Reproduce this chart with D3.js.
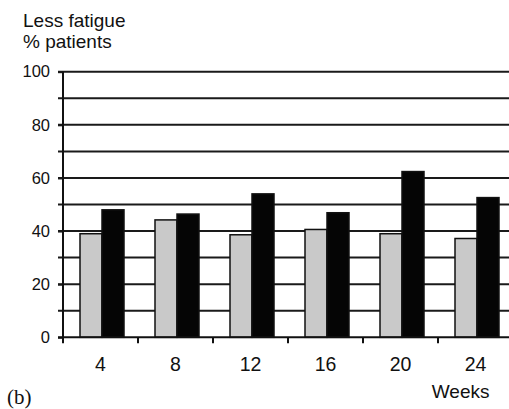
<!DOCTYPE html>
<html>
<head>
<meta charset="utf-8">
<script src="https://cdn.jsdelivr.net/npm/d3@7"></script>
<style>
  html, body { margin: 0; padding: 0; background: #fff; }
  svg { display: block; }
  text { font-family: "Liberation Sans", Arial, sans-serif; fill: #111; }
</style>
</head>
<body>
<svg id="chart" width="509" height="409"></svg>
<script>
// Percent of patients reporting less fatigue, by week
const weeks = ["4", "8", "12", "16", "20", "24"];
const seriesNames = ["control", "treated"];
const controlValues = [39.0, 44.2, 38.6, 40.6, 39.0, 37.2];
const treatedValues = [48.0, 46.4, 54.0, 46.9, 62.4, 52.6];
const yTickValues = [0, 20, 40, 60, 80, 100];
const gridValues = [10, 20, 30, 40, 50, 60, 70, 80, 90, 100];

const svg = d3.select("#chart");
const plotLeft = 63, plotRight = 513, plotTop = 71.7, plotBottom = 337.3;

const x = d3.scaleBand().domain(weeks).range([plotLeft, plotRight]).paddingInner(0).paddingOuter(0);
const xInner = d3.scaleBand().domain(seriesNames).range([17, 61]).padding(0);
const y = d3.scaleLinear().domain([0, 100]).range([plotBottom, plotTop]);

const fills = { control: "#c9c9c9", treated: "#050505" };

// Horizontal grid lines with short outer ticks
svg.append("g")
  .selectAll("line")
  .data(gridValues)
  .join("line")
  .attr("x1", plotLeft - 5)
  .attr("x2", 509)
  .attr("y1", d => y(d))
  .attr("y2", d => y(d))
  .attr("stroke", "#1a1a1a")
  .attr("stroke-width", 2);

// Y axis labels
const yAxis = d3.axisLeft(y).tickValues(yTickValues).tickSize(5).tickPadding(8).tickFormat(d3.format("d"));
const gy = svg.append("g").attr("transform", `translate(${plotLeft},0)`).call(yAxis);
gy.select(".domain").remove();
gy.selectAll(".tick line").attr("stroke", "#1a1a1a").attr("stroke-width", 2);
gy.selectAll(".tick text").attr("font-size", 16.5).attr("fill", "#111")
  .style("font-family", '"Liberation Sans", Arial, sans-serif');

// Bars
const rows = weeks.map((w, i) => ({ week: w, control: controlValues[i], treated: treatedValues[i] }));
const groups = svg.append("g")
  .selectAll("g")
  .data(rows)
  .join("g")
  .attr("transform", d => `translate(${x(d.week)},0)`);

groups.selectAll("rect")
  .data(d => seriesNames.map(s => ({ key: s, value: d[s] })))
  .join("rect")
  .attr("x", d => xInner(d.key))
  .attr("width", xInner.bandwidth())
  .attr("y", d => y(d.value))
  .attr("height", d => y(0) - y(d.value))
  .attr("fill", d => fills[d.key])
  .attr("stroke", "#111")
  .attr("stroke-width", 1.5);

// Y axis line
svg.append("line")
  .attr("x1", plotLeft).attr("x2", plotLeft)
  .attr("y1", plotTop).attr("y2", plotBottom)
  .attr("stroke", "#111").attr("stroke-width", 2);

// X axis line and ticks at group boundaries
svg.append("line")
  .attr("x1", plotLeft - 5).attr("x2", 509)
  .attr("y1", plotBottom).attr("y2", plotBottom)
  .attr("stroke", "#111").attr("stroke-width", 2);

svg.append("g")
  .selectAll("line")
  .data(weeks)
  .join("line")
  .attr("x1", d => x(d)).attr("x2", d => x(d))
  .attr("y1", plotBottom).attr("y2", plotBottom + 6)
  .attr("stroke", "#111").attr("stroke-width", 2);

// Week labels
svg.append("g")
  .selectAll("text")
  .data(weeks)
  .join("text")
  .attr("x", d => x(d) + x.bandwidth() / 2)
  .attr("y", 371)
  .attr("text-anchor", "middle")
  .attr("font-size", 19.5)
  .text(d => d);

// Titles
svg.append("text").attr("x", 23).attr("y", 26.5).attr("font-size", 19).text("Less fatigue");
svg.append("text").attr("x", 23).attr("y", 48).attr("font-size", 19).text("% patients");
svg.append("text").attr("x", 489.5).attr("y", 398).attr("text-anchor", "end").attr("font-size", 19).text("Weeks");
svg.append("text").attr("x", 7).attr("y", 404).attr("font-size", 21)
  .style("font-family", '"Liberation Serif", "Times New Roman", serif').text("(b)");
</script>
</body>
</html>
